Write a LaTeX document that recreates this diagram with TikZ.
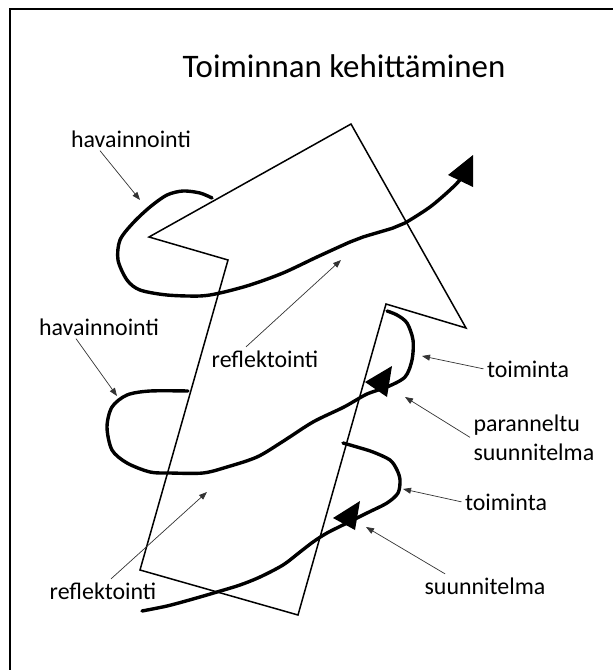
\documentclass[tikz,border=0pt]{standalone}
\usepackage{fontspec}
\setmainfont{Carlito}
\usetikzlibrary{arrows.meta}
\begin{document}
\begin{tikzpicture}[>={Triangle[length=8bp,width=6bp]}, x=1bp, y=-1bp,
  lbl/.style={font=\fontsize{24}{29}\selectfont},
  pointer/.style={->, draw=black!80, line width=0.7bp},
  curve/.style={line width=3.4bp, line cap=round, line join=round},
  tip/.style={fill=black}]
\useasboundingbox (0,0) rectangle (613,670);
% kehys
\draw[line width=2.5bp] (10,670) -- (10,9) -- (613,9);
% otsikko
\node[anchor=base, font=\fontsize{33}{40}\selectfont] (otsikko) at (344,78) {Toiminnan kehittäminen};
% iso nuoli
\draw[line width=1.5bp, line join=miter]
  (351,124) -- (466,328) -- (386,304) -- (298,615) -- (140,570)
  -- (228,260) -- (149,237) -- cycle;
% kierre ylhaalla
\draw[curve] plot[smooth] coordinates {(212,198) (200,193) (183,191) (167,195)
  (150,207) (133,223) (120,240) (118,260) (127,280) (140,290) (167,295)
  (200,296) (220,293) (250,285) (283,273) (317,257) (350,242) (363,237)
  (393,228) (405,223) (430,207) (450,190) (460,180)};
\fill[tip] (473,155) -- (448,175) -- (473,187) -- cycle;
% kierre keskella
\draw[curve] plot[smooth] coordinates {(188,391) (150,391) (127,395) (112,407)
  (107,427) (112,450) (127,463) (150,472) (170,473) (203,473) (227,467)
  (257,457) (282,442) (313,422) (344,407) (367,394) (387,387) (405,377)
  (412,360) (413,340) (407,323) (397,315) (387,311)};
\fill[tip] (392,366) -- (365,382) -- (387,397) -- cycle;
% kierre alhaalla
\draw[curve] plot[smooth] coordinates {(142,611) (167,606) (193,599) (217,592)
  (240,585) (260,577) (283,565) (300,552) (313,542) (327,533) (347,523)
  (367,513) (387,503) (398,493) (400,480) (397,470) (390,460) (373,452)
  (357,447) (343,443)};
\fill[tip] (360,501) -- (333,518) -- (355,530) -- cycle;
% tekstit
\node[lbl, anchor=base] (hav1) at (131,147) {havainnointi};
\node[lbl, anchor=base] (hav2) at (99,335) {havainnointi};
\node[lbl, anchor=base] (ref1) at (265,367) {reflektointi};
\node[lbl, anchor=base] (ref2) at (103,599) {reflektointi};
\node[lbl, anchor=base] (toi1) at (528,377) {toiminta};
\node[lbl, anchor=base] (toi2) at (506,510) {toiminta};
\node[lbl, anchor=north west, align=left] (par) at (470,411) {paranneltu\\suunnitelma};
\node[lbl, anchor=base] (suu) at (485,594) {suunnitelma};
% osoittimet
\coordinate (hav1k) at (140,200);
\coordinate (hav2k) at (117,396);
\coordinate (ref1k) at (341,260);
\coordinate (ref2k) at (207,492);
\coordinate (toi1k) at (422,356);
\coordinate (toi2k) at (403,489);
\coordinate (park) at (405,397);
\coordinate (suuk) at (366,527);
\draw[pointer] ([xshift=-31bp]hav1.south) -- (hav1k);
\draw[pointer] ([xshift=-23bp]hav2.south) -- (hav2k);
\draw[pointer] ([xshift=-19bp]ref1.north) -- (ref1k);
\draw[pointer] ([xshift=8bp]ref2.north) -- (ref2k);
\draw[pointer] (toi1.west) -- (toi1k);
\draw[pointer] (toi2.west) -- (toi2k);
\draw[pointer] (par.west) -- (park);
\draw[pointer] ([xshift=24bp]suu.north west) -- (suuk);
\end{tikzpicture}
\end{document}
